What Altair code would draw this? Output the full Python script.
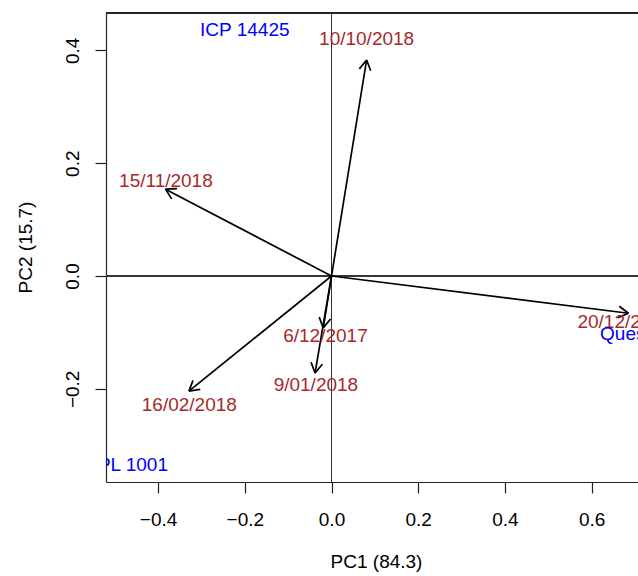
import math
import altair as alt
import pandas as pd

# ---- data ----
dates = ["10/10/2018", "15/11/2018", "16/02/2018", "6/12/2017", "9/01/2018", "20/12/2017"]
arrow_pc1 = [0.081, -0.383, -0.329, -0.019, -0.038, 0.685]
arrow_pc2 = [0.383, 0.154, -0.204, -0.092, -0.172, -0.066]
date_label_pc1 = [0.081, -0.382, -0.328, -0.014, -0.036, 0.677]
date_label_pc2 = [0.420, 0.168, -0.228, -0.107, -0.193, -0.081]

genotypes = ["ICP 14425", "ICPL 1001", "Quest"]
geno_pc1 = [-0.200, -0.480, 0.678]
geno_pc2 = [0.436, -0.335, -0.103]

x_ticks = [-0.4, -0.2, 0.0, 0.2, 0.4, 0.6]
y_ticks = [-0.2, 0.0, 0.2, 0.4]
x_title = "PC1 (84.3)"
y_title = "PC2 (15.7)"

# ---- layout ----
W, H = 532, 469
x_dom = [-0.5202, 0.7070]
y_dom = [-0.3652, 0.4663]
px_x = W / (x_dom[1] - x_dom[0])
px_y = H / (y_dom[1] - y_dom[0])

FONT = "Liberation Sans"
FS = 19
BROWN = "#A52A2A"
BLUE = "#0000FF"

arrows = pd.DataFrame({
    "date": dates,
    "x0": [0.0] * len(dates),
    "y0": [0.0] * len(dates),
    "pc1": arrow_pc1,
    "pc2": arrow_pc2,
    "lx": date_label_pc1,
    "ly": date_label_pc2,
})
arrows["ang"] = [
    math.degrees(math.atan2(-b * px_y, a * px_x)) % 360
    for a, b in zip(arrow_pc1, arrow_pc2)
]
genos = pd.DataFrame({"g": genotypes, "pc1": geno_pc1, "pc2": geno_pc2})

xs = alt.Scale(domain=x_dom, nice=False, zero=False)
ys = alt.Scale(domain=y_dom, nice=False, zero=False)

x_axis = alt.Axis(
    values=x_ticks, format=".1f", title=x_title, grid=False,
    domainColor="#222", domainWidth=1.2, tickColor="#222", tickWidth=1.2, tickSize=11,
    labelFont=FONT, labelFontSize=FS, labelColor="black", labelBaseline="alphabetic",
    labelPadding=32, labelFlush=False, labelOverlap=False,
    titleFont=FONT, titleFontSize=FS, titleFontWeight="normal", titleColor="black",
    titleX=270, titleY=85, titleAlign="center", titleBaseline="alphabetic",
)
y_axis = alt.Axis(
    values=y_ticks, format=".1f", title=y_title, grid=False,
    domainColor="#222", domainWidth=1.2, tickColor="#222", tickWidth=1.2, tickSize=11,
    labelFont=FONT, labelFontSize=FS, labelColor="black", labelAngle=270,
    labelAlign="center", labelBaseline="alphabetic", labelPadding=17,
    labelFlush=False, labelOverlap=False,
    titleFont=FONT, titleFontSize=FS, titleFontWeight="normal", titleColor="black",
    titleAngle=270, titleX=-75, titleY=234, titleAlign="center", titleBaseline="alphabetic",
)

base = alt.Chart(arrows)

hline = alt.Chart(arrows).mark_rule(color="#333", strokeWidth=1).encode(
    y=alt.datum(0, scale=ys, axis=y_axis)
)
vline = alt.Chart(arrows).mark_rule(color="#333", strokeWidth=1).encode(
    x=alt.datum(0, scale=xs, axis=x_axis)
)
topline = alt.Chart(arrows).mark_rule(color="#222", strokeWidth=1.2).encode(
    y=alt.value(0)
)

shafts = base.mark_rule(color="black", strokeWidth=1.7).encode(
    x=alt.X("x0:Q", scale=xs, axis=x_axis),
    y=alt.Y("y0:Q", scale=ys, axis=y_axis),
    x2="pc1:Q",
    y2="pc2:Q",
)
heads = base.mark_point(
    shape="M0,0L-0.866,-0.5M0,0L-0.866,0.5",
    filled=False, color="black", strokeWidth=1.7, size=529, opacity=1,
).encode(
    x=alt.X("pc1:Q", scale=xs, axis=x_axis),
    y=alt.Y("pc2:Q", scale=ys, axis=y_axis),
    angle=alt.Angle("ang:Q", scale=None),
)
date_text = base.mark_text(
    font=FONT, fontSize=FS, color=BROWN, align="center", baseline="middle", clip=True
).encode(
    x=alt.X("lx:Q", scale=xs, axis=x_axis),
    y=alt.Y("ly:Q", scale=ys, axis=y_axis),
    text="date:N",
)
geno_text = alt.Chart(genos).mark_text(
    font=FONT, fontSize=FS, color=BLUE, align="center", baseline="middle", clip=True
).encode(
    x=alt.X("pc1:Q", scale=xs, axis=x_axis),
    y=alt.Y("pc2:Q", scale=ys, axis=y_axis),
    text="g:N",
)

chart = alt.layer(
    hline, vline, topline, shafts, heads, date_text, geno_text
).properties(
    width=W, height=H,
    autosize=alt.AutoSizeParams(type="none"),
    padding={"left": 106, "top": 13, "right": 0, "bottom": 94},
    background="white",
).configure_view(stroke=None)

chart.save("out.html", embed_options={"renderer": "svg", "actions": False})
